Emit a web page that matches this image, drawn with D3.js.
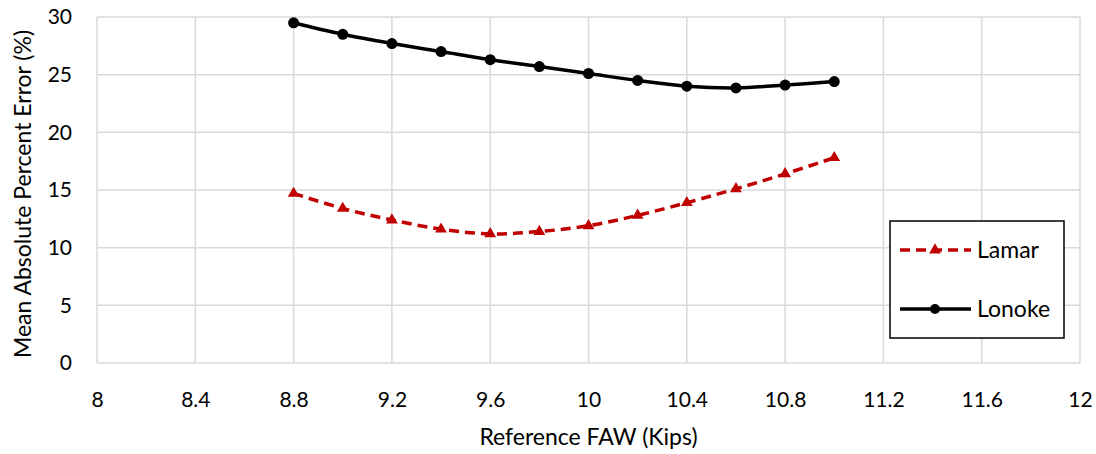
<!DOCTYPE html>
<html>
<head>
<meta charset="utf-8">
<script src="https://cdn.jsdelivr.net/npm/d3@7/dist/d3.min.js"></script>
<style>
  body { margin: 0; background: #fff; }
  #canvas { width: 1096px; height: 454px; }
  text { font-family: Lato, "Open Sans", sans-serif; fill: #000; }
</style>
</head>
<body>
<div id="canvas" class="canvas"></div>
<script>
//---- ---- DATA ---- ----
var faw = [8.8, 9.0, 9.2, 9.4, 9.6, 9.8, 10.0, 10.2, 10.4, 10.6, 10.8, 11.0];
var lamar = [14.7, 13.4, 12.4, 11.6, 11.2, 11.4, 11.9, 12.8, 13.9, 15.1, 16.4, 17.8];
var lonoke = [29.5, 28.5, 27.7, 27.0, 26.3, 25.7, 25.1, 24.5, 24.0, 23.85, 24.1, 24.4];
var xTicks = [8, 8.4, 8.8, 9.2, 9.6, 10, 10.4, 10.8, 11.2, 11.6, 12];
var yTicks = [0, 5, 10, 15, 20, 25, 30];

//---- ---- MARGIN CONVENTION ---- ----
var m = {t:17, r:16, b:91, l:97};
var outerWidth = 1096, outerHeight = 454;
var w = outerWidth - m.l - m.r,
    h = outerHeight - m.t - m.b;

var svg = d3.select('.canvas')
    .append('svg')
    .attr('width', outerWidth)
    .attr('height', outerHeight);

var plot = svg.append('g')
    .attr('transform', 'translate(' + m.l + ',' + m.t + ')');

//---- ---- SCALES ---- ----
var scaleX = d3.scaleLinear().domain([8, 12]).range([0, w]);
var scaleY = d3.scaleLinear().domain([0, 30]).range([h, 0]);

//---- ---- GRID ---- ----
var gridColor = '#d9d9d9';
plot.append('g').selectAll('line')
    .data(xTicks)
    .enter().append('line')
    .attr('x1', function(d){ return scaleX(d); })
    .attr('x2', function(d){ return scaleX(d); })
    .attr('y1', 0).attr('y2', h)
    .style('stroke', gridColor).style('stroke-width', 1.5);

plot.append('g').selectAll('line')
    .data(yTicks)
    .enter().append('line')
    .attr('y1', function(d){ return scaleY(d); })
    .attr('y2', function(d){ return scaleY(d); })
    .attr('x1', 0).attr('x2', w)
    .style('stroke', gridColor).style('stroke-width', 1.5);

//---- ---- AXES ---- ----
var axisX = d3.axisBottom(scaleX).tickValues(xTicks).tickSize(0).tickPadding(29)
    .tickFormat(function(d){ return d3.format('')(+d.toFixed(1)); });
var axisY = d3.axisLeft(scaleY).tickValues(yTicks).tickSize(0).tickPadding(25);

var gx = plot.append('g').attr('transform', 'translate(0,' + h + ')').call(axisX);
var gy = plot.append('g').call(axisY);
[gx, gy].forEach(function(g){
    g.select('.domain').remove();
    g.selectAll('text').style('font-size', '21px').style('font-family', 'Lato, sans-serif');
});

//---- ---- LINES ---- ----
var line = d3.line()
    .x(function(d){ return scaleX(d[0]); })
    .y(function(d){ return scaleY(d[1]); })
    .curve(d3.curveCatmullRom.alpha(0.5));

var lamarPts = faw.map(function(x, i){ return [x, lamar[i]]; });
var lonokePts = faw.map(function(x, i){ return [x, lonoke[i]]; });

var red = '#c00000';
var tri = d3.symbol().type(d3.symbolTriangle).size(60);

plot.append('path')
    .datum(lamarPts)
    .attr('d', line)
    .style('fill', 'none').style('stroke', red)
    .style('stroke-width', 3.5).style('stroke-dasharray', '10,6');

plot.selectAll('.tri')
    .data(lamarPts)
    .enter().append('path')
    .attr('class', 'tri')
    .attr('d', tri)
    .attr('transform', function(d){ return 'translate(' + scaleX(d[0]) + ',' + scaleY(d[1]) + ')'; })
    .style('fill', red);

plot.append('path')
    .datum(lonokePts)
    .attr('d', line)
    .style('fill', 'none').style('stroke', '#000')
    .style('stroke-width', 3.5);

plot.selectAll('.dot')
    .data(lonokePts)
    .enter().append('circle')
    .attr('class', 'dot')
    .attr('cx', function(d){ return scaleX(d[0]); })
    .attr('cy', function(d){ return scaleY(d[1]); })
    .attr('r', 5.5)
    .style('fill', '#000');

//---- ---- AXIS TITLES ---- ----
svg.append('text')
    .attr('x', m.l + w / 2)
    .attr('y', 445)
    .attr('text-anchor', 'middle')
    .style('font-size', '23px')
    .text('Reference FAW (Kips)');

svg.append('text')
    .attr('transform', 'translate(31,' + (m.t + h / 2 + 4) + ') rotate(-90)')
    .attr('text-anchor', 'middle')
    .style('font-size', '23px')
    .text('Mean Absolute Percent Error (%)');

//---- ---- LEGEND ---- ----
var legend = svg.append('g').attr('transform', 'translate(890,221)');
legend.append('rect')
    .attr('width', 174).attr('height', 117)
    .style('fill', '#fff').style('stroke', '#000').style('stroke-width', 1.5);

legend.append('line')
    .attr('x1', 10).attr('x2', 81).attr('y1', 29).attr('y2', 29)
    .style('stroke', red).style('stroke-width', 3.5).style('stroke-dasharray', '10,6');
legend.append('path')
    .attr('d', tri)
    .attr('transform', 'translate(45,29)')
    .style('fill', red);
legend.append('text').attr('x', 87).attr('y', 37).style('font-size', '23px').text('Lamar');

legend.append('line')
    .attr('x1', 10).attr('x2', 81).attr('y1', 88).attr('y2', 88)
    .style('stroke', '#000').style('stroke-width', 3.5);
legend.append('circle')
    .attr('cx', 45).attr('cy', 88).attr('r', 5)
    .style('fill', '#000');
legend.append('text').attr('x', 87).attr('y', 96).style('font-size', '23px').text('Lonoke');
</script>
</body>
</html>
